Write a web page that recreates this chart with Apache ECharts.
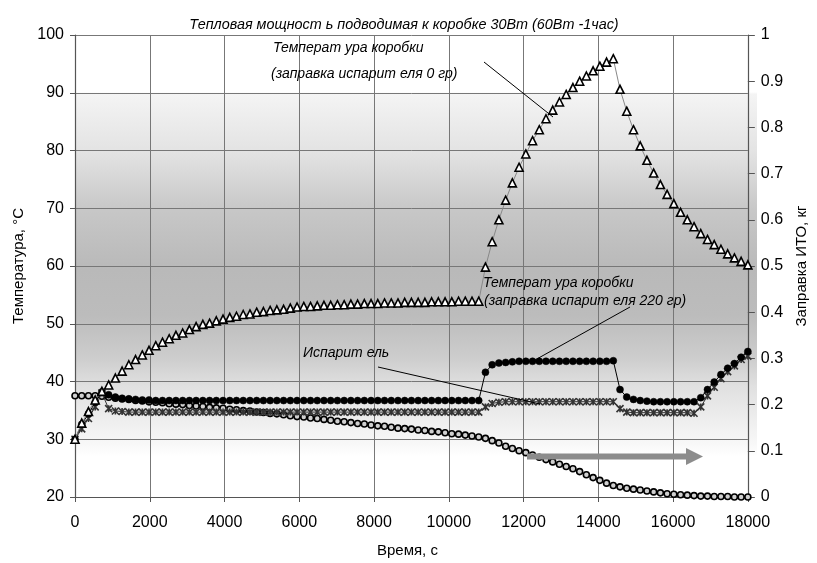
<!DOCTYPE html>
<html>
<head>
<meta charset="utf-8">
<script src="https://cdn.jsdelivr.net/npm/echarts@6/dist/echarts.min.js"></script>
<style>html,body{margin:0;padding:0;background:#fff}#c{width:817px;height:563px}</style>
</head>
<body>
<div id="c"></div>
<script>
// Time, s
var times = [0,180,360,540,720,900,1080,1260,1440,1620,1800,1980,2160,2340,2520,2700,2880,3060,3240,3420,
3600,3780,3960,4140,4320,4500,4680,4860,5040,5220,5400,5580,5760,5940,6120,6300,6480,6660,6840,7020,
7200,7380,7560,7740,7920,8100,8280,8460,8640,8820,9000,9180,9360,9540,9720,9900,10080,10260,10440,10620,
10800,10980,11160,11340,11520,11700,11880,12060,12240,12420,12600,12780,12960,13140,13320,13500,13680,13860,14040,14220,
14400,14580,14760,14940,15120,15300,15480,15660,15840,16020,16200,16380,16560,16740,16920,17100,17280,17460,17640,17820,18000];

// Box temperature, charge 0 g (triangles), °C
var boxTemp0g = [30,32.8,34.8,36.8,38.3,39.4,40.6,41.8,42.9,43.8,44.6,45.4,46.2,46.8,47.4,48.0,48.4,49.0,49.5,49.9,
50.1,50.5,50.8,51.1,51.3,51.6,51.7,52.0,52.1,52.3,52.4,52.5,52.7,52.9,53.0,53.0,53.1,53.2,53.2,53.3,
53.3,53.4,53.4,53.5,53.5,53.5,53.6,53.6,53.6,53.7,53.7,53.7,53.7,53.8,53.8,53.8,53.8,53.9,53.9,53.9,
53.9,59.8,64.2,68.0,71.4,74.4,77.1,79.4,81.7,83.6,85.5,87.0,88.4,89.7,90.9,92.0,92.9,93.8,94.6,95.3,
95.9,90.6,86.8,83.6,80.8,78.3,76.1,74.1,72.4,70.8,69.3,68.0,66.8,65.6,64.6,63.7,62.9,62.1,61.4,60.8,60.2];

// Box temperature, charge 220 g (filled circles), °C
var boxTemp220g = [30,32.6,34.4,36.4,38.2,37.7,37.3,37.1,37.0,36.9,36.8,36.8,36.7,36.7,36.7,36.7,36.7,36.7,36.7,36.7,
36.7,36.7,36.7,36.7,36.7,36.7,36.7,36.7,36.7,36.7,36.7,36.7,36.7,36.7,36.7,36.7,36.7,36.7,36.7,36.7,
36.7,36.7,36.7,36.7,36.7,36.7,36.7,36.7,36.7,36.7,36.7,36.7,36.7,36.7,36.7,36.7,36.7,36.7,36.7,36.7,
36.7,41.6,42.9,43.2,43.3,43.4,43.5,43.5,43.5,43.5,43.5,43.5,43.5,43.5,43.5,43.5,43.5,43.5,43.5,43.5,
43.6,38.6,37.3,36.9,36.7,36.6,36.5,36.5,36.5,36.5,36.5,36.5,36.5,37.2,38.6,39.9,41.2,42.3,43.1,44.2,45.2];

// Evaporator temperature (crosses), °C
var evapTemp = [30,31.8,33.6,35.6,38.0,35.3,34.9,34.8,34.7,34.7,34.7,34.7,34.7,34.7,34.7,34.7,34.7,34.7,34.7,34.7,
34.7,34.7,34.7,34.7,34.7,34.7,34.7,34.7,34.7,34.7,34.7,34.7,34.7,34.7,34.7,34.7,34.7,34.7,34.7,34.7,
34.7,34.7,34.7,34.7,34.7,34.7,34.7,34.7,34.7,34.7,34.7,34.7,34.7,34.7,34.7,34.7,34.7,34.7,34.7,34.7,
34.7,35.6,36.2,36.4,36.5,36.5,36.5,36.5,36.5,36.5,36.5,36.5,36.5,36.5,36.5,36.5,36.5,36.5,36.5,36.5,
36.5,35.3,34.7,34.6,34.6,34.6,34.6,34.6,34.6,34.6,34.6,34.6,34.5,35.6,37.5,39.0,40.5,41.7,42.7,43.8,44.4];

// Heat-pipe charge, kg (open circles, right axis)
var charge = [0.219,0.219,0.219,0.219,0.218,0.216,0.214,0.212,0.211,0.209,0.208,0.206,0.205,0.204,0.202,0.201,0.200,0.198,0.197,0.196,
0.194,0.193,0.192,0.190,0.189,0.187,0.186,0.184,0.183,0.181,0.180,0.178,0.176,0.174,0.173,0.171,0.170,0.168,0.166,0.164,
0.163,0.161,0.159,0.158,0.156,0.154,0.153,0.151,0.149,0.148,0.147,0.145,0.144,0.142,0.141,0.139,0.137,0.136,0.134,0.132,
0.130,0.127,0.122,0.117,0.110,0.105,0.100,0.096,0.091,0.086,0.081,0.076,0.071,0.066,0.061,0.055,0.048,0.042,0.036,0.030,
0.025,0.022,0.019,0.017,0.015,0.013,0.011,0.009,0.007,0.006,0.005,0.004,0.003,0.002,0.002,0.001,0.001,0.001,0.000,0.000,0.000];

var titleText = 'Тепловая мощност ь подводимая к коробке 30Вт (60Вт -1час)';
var xName = 'Время, с';
var yLeftName = 'Температура, °C';
var yRightName = 'Заправка ИТО, кг';

function pairs(xs, ys){ var r=[]; for(var i=0;i<xs.length;i++) r.push([xs[i], ys[i]]); return r; }

var FONT = '"Liberation Sans", Arial, sans-serif';
var chart = echarts.init(document.getElementById('c'), null, {renderer:'canvas'});
var axisLbl = {color:'#000', fontSize:16, fontFamily:FONT};
var axisLine = {show:true, lineStyle:{color:'#555', width:1.2}};
var GL = 75, GR = 60, GT = 35, GB = 60;

var bgGradient = new echarts.graphic.LinearGradient(0, 0, 0, 1, [
  {offset:0, color:'#ffffff'},{offset:0.122, color:'#ffffff'},{offset:0.126, color:'#f4f4f4'},
  {offset:0.25, color:'#e3e3e3'},{offset:0.375, color:'#c7c7c7'},{offset:0.5, color:'#b9b9b9'},
  {offset:0.6, color:'#bcbcbc'},{offset:0.69, color:'#cdcdcd'},{offset:0.75, color:'#e0e0e0'},
  {offset:0.875, color:'#f8f8f8'},{offset:0.9, color:'#ffffff'},{offset:1, color:'#ffffff'}]);

chart.setOption({
  animation:false,
  title:{text:titleText, left:399, top:13, textAlign:'center',
    textStyle:{fontSize:14.4, fontStyle:'italic', fontWeight:'normal', color:'#000', fontFamily:FONT}},
  grid:{left:GL, right:GR, top:GT, bottom:GB},
  xAxis:{type:'value', min:0, max:18000, interval:2000,
    name:xName, nameLocation:'middle', nameGap:46, nameTextStyle:{fontSize:15, color:'#000', fontFamily:FONT, padding:[0,0,0,-8]},
    axisLine:axisLine, axisTick:{show:true, length:5, lineStyle:{color:'#555'}},
    axisLabel:Object.assign({margin:18, formatter:function(v){return String(v);}}, axisLbl),
    splitLine:{show:true, lineStyle:{color:'#777', width:1}}},
  yAxis:[
    {type:'value', min:20, max:100, interval:10, position:'left',
      name:yLeftName, nameLocation:'middle', nameGap:48, nameTextStyle:{fontSize:15, color:'#000', fontFamily:FONT},
      axisLine:axisLine, axisTick:{show:true, length:5, lineStyle:{color:'#555'}},
      axisLabel:Object.assign({margin:11}, axisLbl),
      splitLine:{show:true, lineStyle:{color:'#777', width:1}}},
    {type:'value', min:0, max:1, interval:0.1, position:'right',
      name:yRightName, nameLocation:'middle', nameGap:44, nameTextStyle:{fontSize:15, color:'#000', fontFamily:FONT},
      axisLine:axisLine, axisTick:{show:true, length:7, lineStyle:{color:'#555'}},
      axisLabel:Object.assign({margin:13}, axisLbl),
      splitLine:{show:false}}
  ],
  series:[
    {name:'charge', type:'line', yAxisIndex:1, data:pairs(times, charge),
      symbol:'circle', symbolSize:6, showSymbol:true,
      itemStyle:{color:'#d0d0d0', borderColor:'#000', borderWidth:1.6},
      lineStyle:{color:'#000', width:1}, emphasis:{disabled:true}, z:2},
    {name:'evap', type:'line', data:pairs(times, evapTemp),
      symbol:'path://M0 0L10 10M10 0L0 10M5 0L5 10', symbolSize:7,
      itemStyle:{color:'none', borderColor:'#333', borderWidth:1.6},
      lineStyle:{color:'#333', width:1}, emphasis:{disabled:true}, z:3},
    {name:'box220', type:'line', data:pairs(times, boxTemp220g),
      symbol:'circle', symbolSize:7,
      itemStyle:{color:'#000', borderColor:'#000', borderWidth:0.5},
      lineStyle:{color:'#000', width:1}, emphasis:{disabled:true}, z:4},
    {name:'box0', type:'line', data:pairs(times, boxTemp0g),
      symbol:'triangle', symbolSize:8,
      itemStyle:{color:'#fff', borderColor:'#000', borderWidth:1.6},
      lineStyle:{color:'#888', width:1}, emphasis:{disabled:true}, z:5}
  ],
  graphic:[
    {type:'rect', z:-10, silent:true, shape:{x:GL, y:GT, width:817-GL-GR, height:563-GT-GB}, style:{fill:bgGradient}},
    {type:'text', x:273, y:48, z:20, style:{text:'Температ ура коробки', font:'italic 14px '+FONT, fill:'#000', align:'left', verticalAlign:'middle'}},
    {type:'text', x:271, y:74, z:20, style:{text:'(заправка испарит еля 0 гр)', font:'italic 14px '+FONT, fill:'#000', align:'left', verticalAlign:'middle'}},
    {type:'line', z:20, shape:{x1:484, y1:62, x2:553, y2:117}, style:{stroke:'#000', lineWidth:1}},
    {type:'text', x:483, y:283, z:20, style:{text:'Температ ура коробки', font:'italic 14px '+FONT, fill:'#000', align:'left', verticalAlign:'middle'}},
    {type:'text', x:484, y:301, z:20, style:{text:'(заправка испарит еля 220 гр)', font:'italic 14px '+FONT, fill:'#000', align:'left', verticalAlign:'middle'}},
    {type:'line', z:20, shape:{x1:630, y1:307, x2:535, y2:360}, style:{stroke:'#000', lineWidth:1}},
    {type:'text', x:303, y:353, z:20, style:{text:'Испарит ель', font:'italic 14px '+FONT, fill:'#000', align:'left', verticalAlign:'middle'}},
    {type:'line', z:20, shape:{x1:378, y1:367, x2:540, y2:404}, style:{stroke:'#000', lineWidth:1}},
    {type:'line', z:20, shape:{x1:527, y1:456.5, x2:690, y2:456.5}, style:{stroke:'#8c8c8c', lineWidth:6}},
    {type:'polygon', z:20, shape:{points:[[686,448],[703,456.5],[686,465]]}, style:{fill:'#8c8c8c'}}
  ]
});
</script>
</body>
</html>
